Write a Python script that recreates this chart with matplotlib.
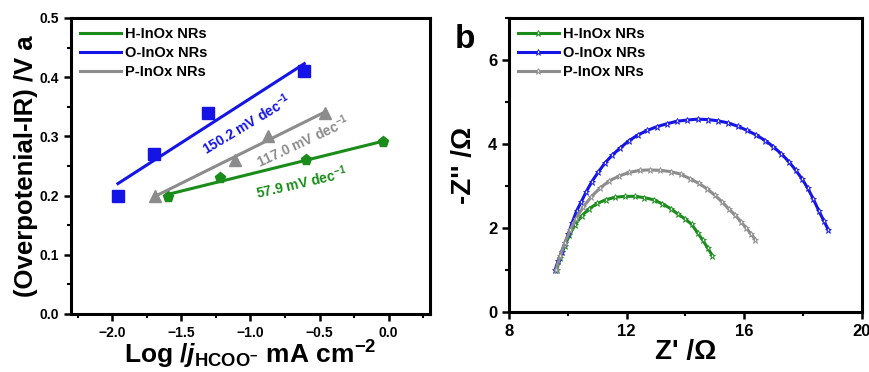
import numpy as np
import matplotlib
matplotlib.use("Agg")
import matplotlib.pyplot as plt
from matplotlib.ticker import MultipleLocator

plt.rcParams['font.family'] = ['Liberation Sans', 'DejaVu Sans']
plt.rcParams['font.weight'] = 'bold'
plt.rcParams['mathtext.fontset'] = 'custom'
plt.rcParams['mathtext.rm'] = 'Liberation Sans:bold'
plt.rcParams['mathtext.bf'] = 'Liberation Sans:bold'
plt.rcParams['mathtext.it'] = 'Liberation Sans:italic:bold'

labels = ['H-InOx NRs', 'O-InOx NRs', 'P-InOx NRs']
colors = ['#1a8c1a', '#1414e6', '#8c8c8c']

# panel a: Tafel points
tafel_h_x = [-1.60, -1.22, -0.60, -0.04]
tafel_h_y = [0.197, 0.230, 0.260, 0.290]
tafel_o_x = [-1.96, -1.70, -1.31, -0.61]
tafel_o_y = [0.200, 0.270, 0.340, 0.410]
tafel_p_x = [-1.69, -1.11, -0.87, -0.46]
tafel_p_y = [0.200, 0.260, 0.300, 0.340]
slopes = ['57.9', '150.2', '117.0']

# panel b: Nyquist points
eis_h_x = [9.62, 9.75, 9.90, 10.06, 10.25, 10.47, 10.72, 11.00, 11.30, 11.62, 11.95, 12.28,
           12.60, 12.92, 13.22, 13.50, 13.76, 14.00, 14.22, 14.42, 14.60, 14.76, 14.92]
eis_h_y = [1.00, 1.28, 1.57, 1.83, 2.07, 2.28, 2.45, 2.58, 2.67, 2.73, 2.75, 2.75,
           2.72, 2.67, 2.57, 2.46, 2.32, 2.21, 2.08, 1.88, 1.70, 1.52, 1.34]
eis_o_x = [9.57, 9.68, 9.79, 9.90, 10.02, 10.15, 10.30, 10.46, 10.63, 10.82,
           11.03, 11.26, 11.51, 11.78, 12.07, 12.38, 12.70, 13.03, 13.37, 13.72,
           14.07, 14.42, 14.77, 15.12, 15.46, 15.79, 16.11, 16.42, 16.72, 17.00,
           17.27, 17.52, 17.75, 17.97, 18.17, 18.36, 18.54, 18.71, 18.87]
eis_o_y = [1.00, 1.22, 1.43, 1.63, 1.85, 2.12, 2.40, 2.62, 2.86, 3.10,
           3.32, 3.54, 3.73, 3.90, 4.07, 4.21, 4.32, 4.41, 4.48, 4.54,
           4.57, 4.59, 4.58, 4.55, 4.50, 4.42, 4.32, 4.21, 4.08, 3.93,
           3.76, 3.58, 3.38, 3.17, 2.94, 2.68, 2.41, 2.17, 1.95]
eis_p_x = [9.60, 9.74, 9.90, 10.08, 10.28, 10.52, 10.80, 11.10, 11.42, 11.76, 12.10, 12.45,
           12.80, 13.15, 13.50, 13.84, 14.16, 14.46, 14.74, 15.00, 15.25, 15.48, 15.70,
           15.90, 16.08, 16.24, 16.38]
eis_p_y = [1.00, 1.32, 1.64, 1.94, 2.22, 2.49, 2.74, 2.95, 3.12, 3.24, 3.32, 3.37,
           3.38, 3.37, 3.34, 3.28, 3.17, 3.06, 2.93, 2.78, 2.62, 2.45, 2.30,
           2.14, 1.99, 1.85, 1.72]

fig = plt.figure(figsize=(8.7, 3.72), dpi=100)
ax1 = fig.add_axes([0.0816, 0.156, 0.4126, 0.7957])
ax2 = fig.add_axes([0.585, 0.162, 0.4054, 0.7895])

def style(ax, fs):
    for s in ax.spines.values():
        s.set_linewidth(2.2)
    ax.tick_params(which='major', direction='out', length=5, width=1.8, labelsize=fs,
                   top=False, right=False)
    ax.tick_params(which='minor', direction='out', length=3, width=1.5,
                   top=False, right=False)
    for t in ax.get_xticklabels() + ax.get_yticklabels():
        t.set_fontweight('bold')

# ---- panel a
tafel = [(tafel_h_x, tafel_h_y, 'p'), (tafel_o_x, tafel_o_y, 's'), (tafel_p_x, tafel_p_y, '^')]
for (x, y, m), c, lab in zip(tafel, colors, labels):
    x = np.array(x); y = np.array(y)
    k, b = np.polyfit(x, y, 1)
    ax1.plot(x, y, ls='none', marker=m, ms=8, color=c)
    ax1.plot([x.min(), x.max()], [k*x.min()+b, k*x.max()+b], color=c, lw=2.2, label=lab)

ax1.text(-1.03, 0.32, '150.2 mV dec$^{-1}$', color=colors[1], rotation=31,
         ha='center', va='center', fontsize=10, fontweight='bold')
ax1.text(-0.62, 0.292, '117.0 mV dec$^{-1}$', color=colors[2], rotation=25,
         ha='center', va='center', fontsize=10, fontweight='bold')
ax1.text(-0.63, 0.222, '57.9 mV dec$^{-1}$', color=colors[0], rotation=13,
         ha='center', va='center', fontsize=10, fontweight='bold')

ax1.set_xlim(-2.3, 0.3)
ax1.set_ylim(0, 0.5)
ax1.xaxis.set_major_locator(MultipleLocator(0.5))
ax1.xaxis.set_minor_locator(MultipleLocator(0.25))
ax1.yaxis.set_major_locator(MultipleLocator(0.1))
ax1.yaxis.set_minor_locator(MultipleLocator(0.05))
style(ax1, 10)
ax1.set_xlabel(r'Log /$j_{\rm HCOO^{-}}$ mA cm$^{-2}$', fontsize=19, fontweight='bold', labelpad=-1)
ax1.set_ylabel('(Overpotenial-IR) /V a', fontsize=18.5, fontweight='bold', labelpad=1)
leg = ax1.legend(loc='upper left', frameon=False, fontsize=10.5, handlelength=2.8,
                 borderaxespad=0.2, labelspacing=0.35, handletextpad=0.3)
for t in leg.get_texts():
    t.set_fontweight('bold')

# ---- panel b
eis = [(eis_h_x, eis_h_y), (eis_o_x, eis_o_y), (eis_p_x, eis_p_y)]
for (x, y), c, lab in zip(eis, colors, labels):
    ax2.plot(x, y, color=c, lw=2.2, marker='*', ms=5, mfc='#e8e8f0', mec=c, mew=0.6, label=lab)

ax2.set_xlim(8, 20)
ax2.set_ylim(0, 7)
ax2.xaxis.set_major_locator(MultipleLocator(4))
ax2.xaxis.set_minor_locator(MultipleLocator(2))
ax2.yaxis.set_major_locator(MultipleLocator(2))
ax2.yaxis.set_minor_locator(MultipleLocator(1))
style(ax2, 12)
ax2.set_xlabel("Z' /\u03a9", fontsize=20, fontweight='bold', labelpad=0)
ax2.set_ylabel("-Z'' /\u03a9", fontsize=20, fontweight='bold', labelpad=8)
leg2 = ax2.legend(loc='upper left', frameon=False, fontsize=10.5, handlelength=2.8,
                  borderaxespad=0.2, labelspacing=0.35, handletextpad=0.3)
for t in leg2.get_texts():
    t.set_fontweight('bold')

fig.text(0.523, 0.87, 'b', fontsize=24, fontweight='bold')

fig.savefig('out.png', dpi=100)
